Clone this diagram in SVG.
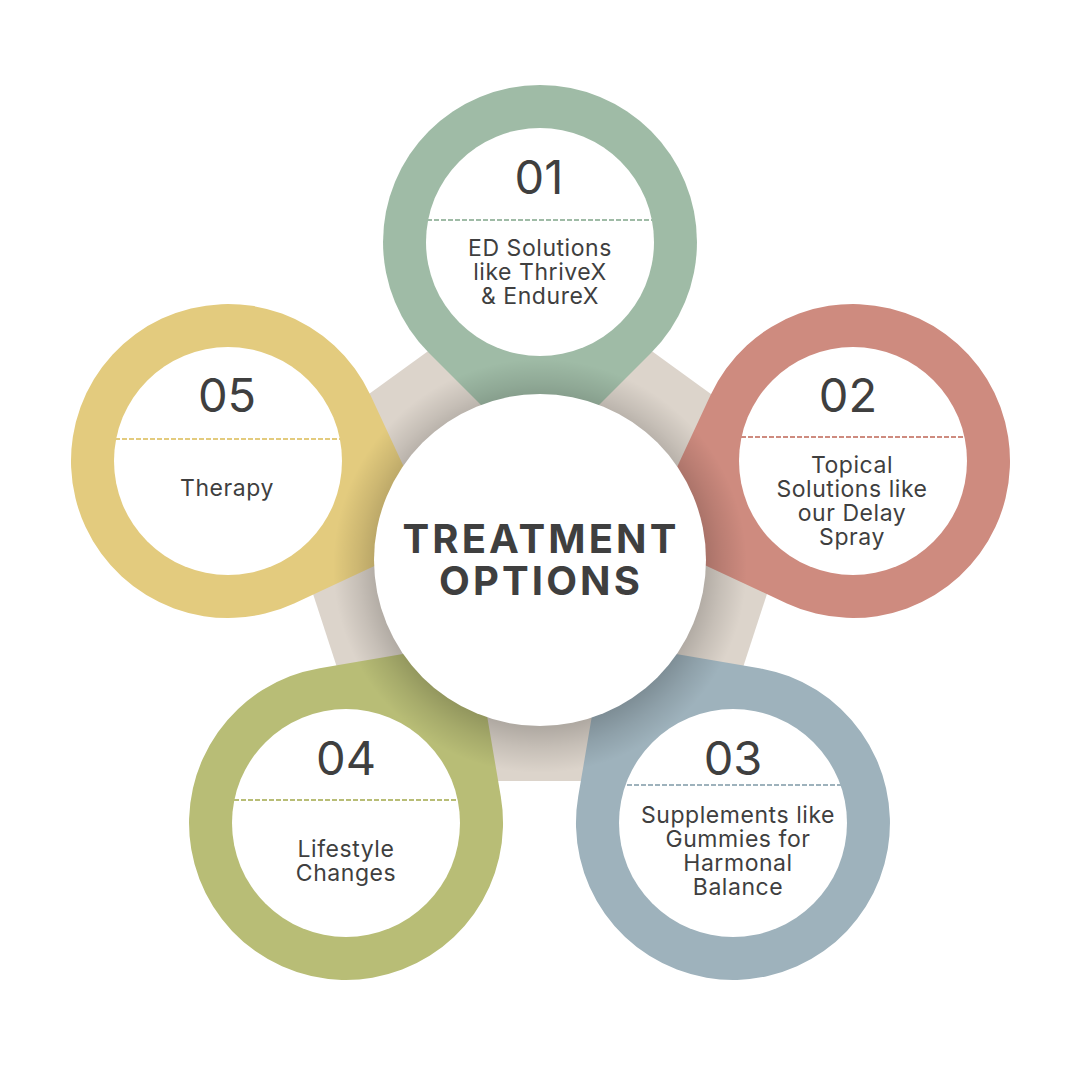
<svg xmlns="http://www.w3.org/2000/svg" xmlns:xlink="http://www.w3.org/1999/xlink" width="1080" height="1080" viewBox="0 0 1080 1080">
<style>
.hole{fill:#fff}
.num{font-family:Inter,"Liberation Sans",sans-serif;font-size:47px;fill:#3f3f3f;text-anchor:middle}
.lbl{font-family:Inter,"Liberation Sans",sans-serif;font-size:23px;letter-spacing:.55px;fill:#3f3f3f;text-anchor:middle}
.title{font-family:Inter,"Liberation Sans",sans-serif;font-weight:700;font-size:40px;letter-spacing:3.1px;fill:#3f3f3f;text-anchor:middle}
.dash{stroke-width:2;stroke-dasharray:5 2;fill:none}
</style>
<defs>
<radialGradient id="sh" gradientUnits="userSpaceOnUse" cx="540" cy="566" r="207">
<stop offset="0.78" stop-color="#000" stop-opacity="0.2"/>
<stop offset="0.88" stop-color="#000" stop-opacity="0.1"/>
<stop offset="1" stop-color="#000" stop-opacity="0"/>
</radialGradient>
<path id="p1" d="M429 353L540 464L651 353A157 157 0 1 0 429 353Z"/>
<path id="p2" d="M710.600 394.900L644.500 537.100L786.900 603.400A157 157 0 1 0 710.600 394.900Z"/>
<path id="p3" d="M759.400 668.200L604.500 641.800L578.200 796.600A157 157 0 1 0 759.400 668.200Z"/>
<path id="p4" d="M319.600 668.200L474.500 641.800L500.800 796.600A157 157 0 1 1 319.600 668.200Z"/>
<path id="p5" d="M370.400 394.900L436.500 537.100L294.100 603.400A157 157 0 1 1 370.400 394.900Z"/>
<polygon id="pent" points="540,270 809,465 706,781 374,781 271,465"/>
<clipPath id="all">
<use xlink:href="#pent"/><use xlink:href="#p1"/><use xlink:href="#p2"/><use xlink:href="#p3"/><use xlink:href="#p4"/><use xlink:href="#p5"/>
</clipPath>
</defs>
<rect width="1080" height="1080" fill="#fff"/>
<g id="connectors">
<use xlink:href="#pent" fill="#dcd4cb"/>
</g>
<g id="pins">
<use xlink:href="#p1" fill="#9fbba6"/>
<use xlink:href="#p2" fill="#ce8b7f"/>
<use xlink:href="#p3" fill="#9eb2bc"/>
<use xlink:href="#p4" fill="#b8bd76"/>
<use xlink:href="#p5" fill="#e3cb7e"/>
</g>
<circle cx="540" cy="566" r="207" fill="url(#sh)" clip-path="url(#all)"/>
<g id="node-01">
<circle class="hole" cx="540" cy="242" r="114"/>
<line class="dash" x1="427" y1="220" x2="653" y2="220" stroke="#9fbba6"/>
<text class="num" x="539" y="194">01</text>
<text class="lbl" x="540" y="256">ED Solutions</text>
<text class="lbl" x="540" y="280">like ThriveX</text>
<text class="lbl" x="540" y="304">&amp; EndureX</text>
</g>
<g id="node-02">
<circle class="hole" cx="853" cy="461" r="114"/>
<line class="dash" x1="741" y1="437" x2="965" y2="437" stroke="#ce8b7f"/>
<text class="num" x="848" y="412">02</text>
<text class="lbl" x="852" y="473">Topical</text>
<text class="lbl" x="852" y="497">Solutions like</text>
<text class="lbl" x="852" y="521">our Delay</text>
<text class="lbl" x="852" y="545">Spray</text>
</g>
<g id="node-03">
<circle class="hole" cx="733" cy="823" r="114"/>
<line class="dash" x1="627" y1="785" x2="843" y2="785" stroke="#9eb2bc"/>
<text class="num" x="733" y="775">03</text>
<text class="lbl" x="738" y="823">Supplements like</text>
<text class="lbl" x="738" y="847">Gummies for</text>
<text class="lbl" x="738" y="871">Harmonal</text>
<text class="lbl" x="738" y="895">Balance</text>
</g>
<g id="node-04">
<circle class="hole" cx="346" cy="823" r="114"/>
<line class="dash" x1="234" y1="800" x2="458" y2="800" stroke="#b8bd76"/>
<text class="num" x="346" y="775">04</text>
<text class="lbl" x="346" y="857">Lifestyle</text>
<text class="lbl" x="346" y="881">Changes</text>
</g>
<g id="node-05">
<circle class="hole" cx="228" cy="461" r="114"/>
<line class="dash" x1="115" y1="439" x2="340" y2="439" stroke="#e3cb7e"/>
<text class="num" x="227" y="412">05</text>
<text class="lbl" x="227" y="496">Therapy</text>
</g>
<g id="center">
<circle cx="540" cy="560" r="166" fill="#fff"/>
<text class="title" x="541" y="553">TREATMENT</text>
<text class="title" x="541" y="595">OPTIONS</text>
</g>
</svg>
